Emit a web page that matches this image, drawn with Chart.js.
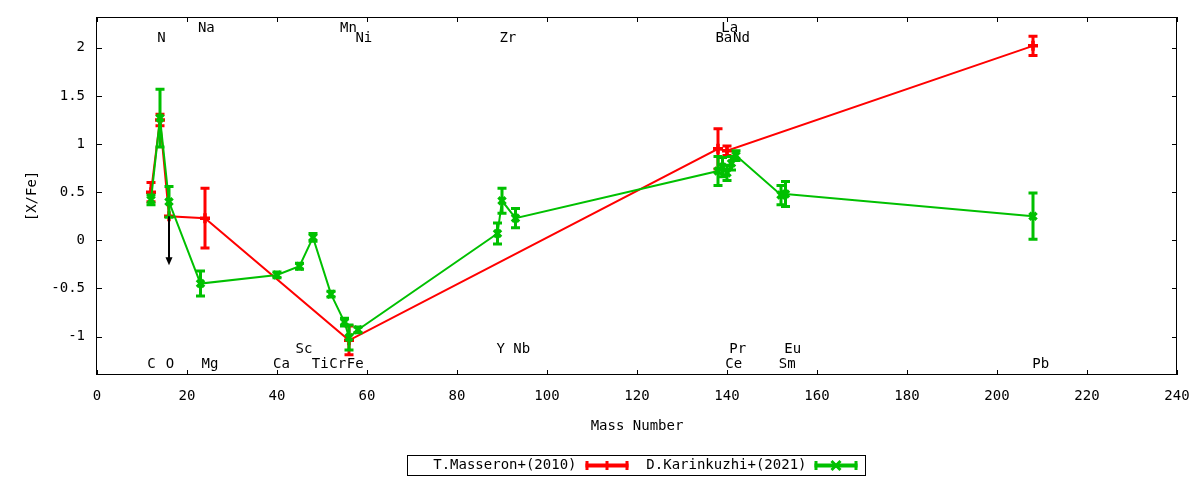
<!DOCTYPE html>
<html><head><meta charset="utf-8">
<script src="https://cdn.jsdelivr.net/npm/chart.js@4.4.1/dist/chart.umd.min.js"></script>
<style>html,body{margin:0;padding:0;background:#fff;}canvas{display:block;}</style>
</head><body>
<canvas id="c" width="1200" height="480"></canvas>
<script>
// ---- data ----
const xTicks = [0,20,40,60,80,100,120,140,160,180,200,220,240];
const yTicks = [-1,-0.5,0,0.5,1,1.5,2];

const masseronMass = [12, 14, 16, 24, 56, 138, 140, 208];
const masseronVal  = [0.50, 1.25, 0.25, 0.23, -1.04, 0.95, 0.93, 2.02];
const masseronErr  = [0.10, 0.06, 0, 0.31, 0.15, 0.21, 0.05, 0.10];
const upperLimitMass = [16];
const upperLimitVal  = [0.25];
const upperLimitTo   = [-0.26];

const karinMass = [12, 14, 16, 23, 40, 45, 48, 52, 55, 56, 58, 89, 90, 93, 138, 139, 140, 141, 142, 152, 153, 208];
const karinVal  = [0.42, 1.27, 0.40, -0.45, -0.36, -0.27, 0.03, -0.56, -0.85, -1.01, -0.93, 0.07, 0.41, 0.23, 0.72, 0.76, 0.70, 0.80, 0.88, 0.47, 0.48, 0.25];
const karinErr  = [0.05, 0.30, 0.16, 0.13, 0.03, 0.03, 0.04, 0.03, 0.04, 0.13, 0.03, 0.11, 0.13, 0.10, 0.15, 0.10, 0.08, 0.07, 0.05, 0.10, 0.13, 0.24];

const labelText = ['N','Na','Mn','Ni','Zr','Ba','La','Nd','C','O','Mg','Ca','Sc','Ti','Cr','Fe','Y','Nb','Ce','Pr','Sm','Eu','Pb'];
const labelMass = [14.3,24.3,55.9,59.3,91.3,139.3,140.6,143.2,12.1,16.2,25.1,41.0,46.0,49.6,53.5,57.4,89.7,94.4,141.5,142.4,153.4,154.6,209.7];
const labelY    = [2.10,2.20,2.20,2.10,2.10,2.10,2.20,2.10,-1.29,-1.29,-1.29,-1.29,-1.13,-1.29,-1.29,-1.29,-1.13,-1.13,-1.29,-1.13,-1.29,-1.13,-1.29];

const seriesNames = ['T.Masseron+(2010)', 'D.Karinkuzhi+(2021)'];
const RED = '#ff0000', GREEN = '#00c000';
const FONTFAM = '"DejaVu Sans Mono", monospace';
const FONT = '14px ' + FONTFAM;

const toPts = (m, v) => m.map((x, i) => ({x: x, y: v[i]}));

function errBar(c, px, y1, y2) {
  c.beginPath();
  c.moveTo(px, y1); c.lineTo(px, y2);
  c.moveTo(px - 4.5, y1); c.lineTo(px + 4.5, y1);
  c.moveTo(px - 4.5, y2); c.lineTo(px + 4.5, y2);
  c.stroke();
}

const gp = {
  id: 'gp',
  afterDatasetDraw(chart, args) {
    const ds = chart.data.datasets[args.index];
    const xs = chart.scales.x, ys = chart.scales.y, c = chart.ctx;
    c.save();
    c.strokeStyle = ds.borderColor; c.lineWidth = 3; c.lineCap = 'butt';
    ds.errs.forEach((e, i) => {
      if (!e) return;
      const p = ds.data[i];
      errBar(c, xs.getPixelForValue(p.x), ys.getPixelForValue(p.y + e), ys.getPixelForValue(p.y - e));
    });
    c.restore();
  },
  afterDraw(chart) {
    const c = chart.ctx, a = chart.chartArea, xs = chart.scales.x, ys = chart.scales.y;
    c.save();
    // border
    c.strokeStyle = '#000'; c.lineWidth = 1;
    c.strokeRect(Math.round(a.left) - 0.5, Math.round(a.top) + 0.5, Math.round(a.right - a.left), Math.round(a.bottom - a.top) - 1);
    // inward ticks
    c.beginPath();
    xTicks.forEach(v => {
      const px = Math.round(xs.getPixelForValue(v)) + 0.5;
      c.moveTo(px, a.bottom); c.lineTo(px, a.bottom - 5);
      c.moveTo(px, a.top); c.lineTo(px, a.top + 5);
    });
    yTicks.forEach(v => {
      const py = Math.round(ys.getPixelForValue(v)) + 0.5;
      c.moveTo(a.left, py); c.lineTo(a.left + 5, py);
      c.moveTo(a.right, py); c.lineTo(a.right - 5, py);
    });
    c.stroke();
    // element labels
    c.fillStyle = '#000'; c.font = FONT; c.textAlign = 'center'; c.textBaseline = 'middle';
    labelText.forEach((t, i) => c.fillText(t, xs.getPixelForValue(labelMass[i]), ys.getPixelForValue(labelY[i])));
    // upper-limit arrow
    c.strokeStyle = '#000'; c.fillStyle = '#000'; c.lineWidth = 2;
    upperLimitMass.forEach((m, i) => {
      const px = xs.getPixelForValue(m);
      const y1 = ys.getPixelForValue(upperLimitVal[i]), y2 = ys.getPixelForValue(upperLimitTo[i]);
      c.beginPath(); c.moveTo(px, y1); c.lineTo(px, y2 - 6); c.stroke();
      c.beginPath(); c.moveTo(px - 3.5, y2 - 8); c.lineTo(px + 3.5, y2 - 8); c.lineTo(px, y2); c.closePath(); c.fill();
    });
    // legend
    const cx = (a.left + a.right) / 2;
    const bl = Math.round(cx - 230) + 0.5, bt = 455.5;
    c.lineWidth = 1; c.strokeStyle = '#000';
    c.strokeRect(bl, bt, 458, 20);
    const ly = bt + 10;
    c.textAlign = 'right'; c.fillStyle = '#000';
    c.fillText(seriesNames[0], bl + 169, ly);
    c.fillText(seriesNames[1], bl + 399, ly);
    const samples = [[bl + 178, bl + 221, RED, 'cross'], [bl + 407, bl + 450, GREEN, 'crossRot']];
    samples.forEach(([x0, x1, col, st]) => {
      c.strokeStyle = col; c.lineWidth = 4;
      c.beginPath(); c.moveTo(x0, ly); c.lineTo(x1, ly); c.stroke();
      c.lineWidth = 3;
      c.beginPath();
      c.moveTo(x0 + 1.5, ly - 4.5); c.lineTo(x0 + 1.5, ly + 4.5);
      c.moveTo(x1 - 1.5, ly - 4.5); c.lineTo(x1 - 1.5, ly + 4.5);
      const m = (x0 + x1) / 2;
      if (st === 'cross') { c.moveTo(m, ly - 4.5); c.lineTo(m, ly + 4.5); }
      else { c.moveTo(m - 4.5, ly - 4.5); c.lineTo(m + 4.5, ly + 4.5); c.moveTo(m - 4.5, ly + 4.5); c.lineTo(m + 4.5, ly - 4.5); }
      c.stroke();
    });
    c.restore();
  }
};

new Chart(document.getElementById('c'), {
  type: 'line',
  data: {
    datasets: [
      { label: seriesNames[0], data: toPts(masseronMass, masseronVal), errs: masseronErr,
        borderColor: RED, backgroundColor: RED, borderWidth: 2, pointStyle: 'cross',
        pointRadius: 5, pointBorderWidth: 3.5, pointBorderColor: RED, tension: 0, order: 2 },
      { label: seriesNames[1], data: toPts(karinMass, karinVal), errs: karinErr,
        borderColor: GREEN, backgroundColor: GREEN, borderWidth: 2, pointStyle: 'crossRot',
        pointRadius: 5, pointBorderWidth: 3.5, pointBorderColor: GREEN, tension: 0, order: 1 }
    ]
  },
  options: {
    responsive: false, animation: false, devicePixelRatio: 1,
    layout: { padding: { top: 17, right: 23, left: 0, bottom: 0 } },
    plugins: { legend: { display: false }, tooltip: { enabled: false } },
    scales: {
      x: {
        type: 'linear', min: 0, max: 240,
        afterBuildTicks: s => { s.ticks = xTicks.map(v => ({value: v})); },
        ticks: { color: '#000', font: { family: FONTFAM, size: 14 }, padding: 13, maxRotation: 0, callback: v => String(v) },
        grid: { display: false, drawTicks: false }, border: { display: false },
        title: { display: true, text: 'Mass Number', color: '#000', font: { family: FONTFAM, size: 14 }, padding: { bottom: 45 } },
        afterFit: s => { s.height = 105; s.paddingLeft = 0; s.paddingRight = 0; s.paddingTop = 0; s.paddingBottom = 0; }
      },
      y: {
        type: 'linear', min: -1.4, max: 2.32,
        afterBuildTicks: s => { s.ticks = yTicks.map(v => ({value: v})); },
        ticks: { color: '#000', font: { family: FONTFAM, size: 14 }, padding: 12, callback: v => String(v) },
        grid: { display: false, drawTicks: false }, border: { display: false },
        title: { display: true, text: '[X/Fe]', color: '#000', font: { family: FONTFAM, size: 14 }, padding: { top: 24 } },
        afterFit: s => { s.width = 97; s.paddingLeft = 0; s.paddingRight = 0; s.paddingTop = 0; s.paddingBottom = 0; }
      }
    }
  },
  plugins: [gp]
});
</script>
</body></html>
